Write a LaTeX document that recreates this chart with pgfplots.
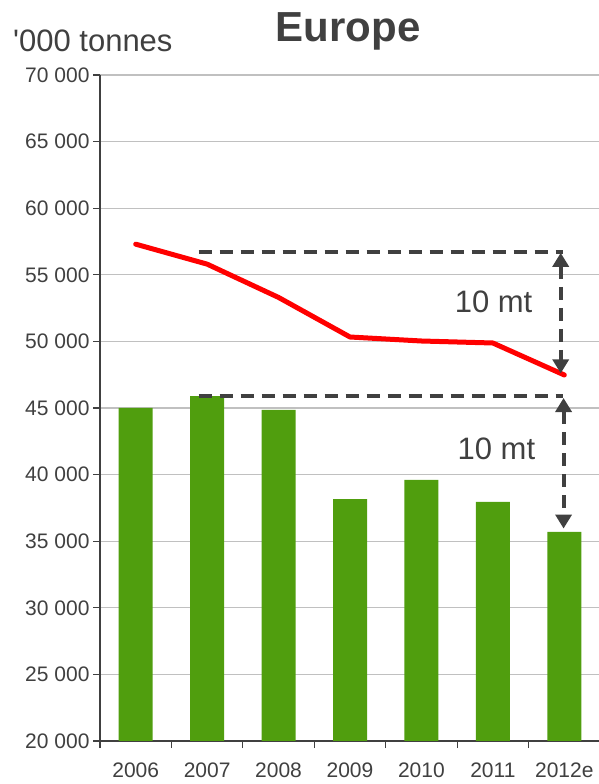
\documentclass[border=0pt]{standalone}
\usepackage{fontspec}
\setmainfont{Liberation Sans}[Ligatures=TeXOff]
\usepackage{pgfplots}
\pgfplotsset{compat=1.18}
\usetikzlibrary{arrows.meta}
\definecolor{barg}{RGB}{80,158,14}
\definecolor{txt}{RGB}{64,64,64}
\definecolor{gridc}{RGB}{192,192,192}
\begin{document}
\begin{tikzpicture}
\useasboundingbox (0,0) rectangle (599pt,784pt);
\begin{axis}[
  at={(100pt,43pt)}, anchor=south west,
  scale only axis, width=500pt, height=666pt,
  xmin=-0.5, xmax=6.5, ymin=20000, ymax=70000,
  axis x line*=bottom, axis y line*=left,
  axis line style={txt, line width=1.5pt},
  scaled y ticks=false,
  ytick={20000,25000,...,70000},
  yticklabels={20 000,25 000,30 000,35 000,40 000,45 000,50 000,55 000,60 000,65 000,70 000},
  xtick={0,...,6}, xticklabels={2006,2007,2008,2009,2010,2011,2012e},
  minor xtick={-0.5,0.5,...,6.5},
  x tick style={draw=none},
  minor x tick style={draw=txt, line width=1.2pt},
  y tick style={draw=txt, line width=1.2pt},
  tick align=outside, major tick length=7pt, minor tick length=7pt,
  ymajorgrids, grid style={gridc, line width=1.2pt},
  ticklabel style={font=\fontsize{21}{24}\selectfont, text=txt},
  xticklabel style={yshift=-11pt},
  clip=false,
]
\addplot[ybar, bar width=34pt, fill=barg, draw=none] coordinates {
  (0,45000) (1,45900) (2,44850) (3,38150) (4,39600) (5,37960) (6,35700)};
\addplot[red, line width=5pt, line join=round, line cap=round, mark=none] coordinates {
  (0,57300) (1,55800) (2,53300) (3,50330) (4,50030) (5,49880) (6,47480)};
\draw[txt, line width=4pt, dash pattern=on 13pt off 8pt] (axis cs:0.88,56700) -- (axis cs:5.98,56700);
\draw[txt, line width=4pt, dash pattern=on 13pt off 8pt] (axis cs:0.88,45900) -- (axis cs:5.98,45900);
\draw[txt, line width=4pt, dash pattern=on 13pt off 8pt, {Triangle[width=16pt,length=14pt]}-{Triangle[width=16pt,length=14pt]}] (axis cs:5.95,56650) -- (axis cs:5.95,47600);
\draw[txt, line width=4pt, dash pattern=on 13pt off 8pt, {Triangle[width=16pt,length=14pt]}-{Triangle[width=16pt,length=14pt]}] (axis cs:5.99,45750) -- (axis cs:5.99,35950);
\node[font=\fontsize{31}{36}\selectfont, text=txt] at (axis cs:5.01,53000) {10 mt};
\node[font=\fontsize{31}{36}\selectfont, text=txt] at (axis cs:5.05,41920) {10 mt};
\end{axis}
\node[font=\bfseries\fontsize{42}{48}\selectfont, text=txt, anchor=base, inner sep=0pt] at (348pt,742pt) {Europe};
\node[font=\fontsize{31}{36}\selectfont, text=txt, anchor=base west, inner sep=0pt] at (13pt,732pt) {'000 tonnes};
\end{tikzpicture}
\end{document}
